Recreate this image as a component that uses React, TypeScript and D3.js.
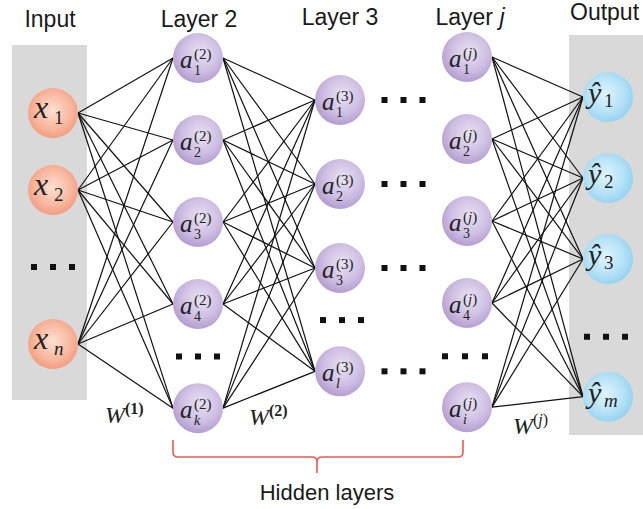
import React from 'react';
import * as d3 from 'd3';

// chart content
const layerIds = ['in', 'l2', 'l3', 'lj', 'out'];
const layerTitles = ['Input', 'Layer 2', 'Layer 3', 'Layer ', 'Output'];
const inputSubs = ['1', '2', 'n'];
const layer2Subs = ['1', '2', '3', '4', 'k'];
const layer3Subs = ['1', '2', '3', 'l'];
const layerJSubs = ['1', '2', '3', '4', 'i'];
const outputSubs = ['1', '2', '3', 'm'];
const hiddenSups = ['2', '3', 'j'];
const weightSups = ['1', '2', 'j'];
const braceLabel = 'Hidden layers';

const W = 643;
const H = 509;
const R = 25;
const MATH = "'Liberation Serif', 'DejaVu Serif', serif";
const SANS = "'Liberation Sans', Arial, sans-serif";

const xPos = d3.scaleOrdinal<string, number>().domain(layerIds).range([53, 198, 340, 467, 608]);

// vertical layout per layer: first row, row step, slot of last node, slot of the dots
const layout: any = {
  in: { y0: 113, step: 77, last: 3, dots: 2 },
  l2: { y0: 58, step: 82, last: 4.27, dots: 3.64 },
  l3: { y0: 100, step: 84, last: 3.23, dots: 2.62 },
  lj: { y0: 57, step: 82, last: 4.27, dots: 3.65 },
  out: { y0: 97, step: 81, last: 3.7, dots: 2.96 }
};

const yScale = (id: string) => {
  const l = layout[id];
  return d3.scaleLinear().domain([0, 1]).range([l.y0, l.y0 + l.step]);
};

const nodesOf = (id: string, subs: string[]) => {
  const y = yScale(id);
  return subs.map((s, i) => ({
    id,
    sub: s,
    x: xPos(id),
    y: y(i === subs.length - 1 ? layout[id].last : i)
  }));
};

const isLetter = (s: string) => /[a-z]/.test(s);
const styleOf = (s: string) => (isLetter(s) ? 'italic' : 'normal');

const Dots = ({ cx, cy, gap = 19 }: any) => (
  <g>
    {[-1, 0, 1].map((k) => (
      <rect key={k} x={cx + k * gap - 3} y={cy - 3} width={6} height={6} fill="#111" />
    ))}
  </g>
);

const App = () => {
  const inNodes = nodesOf('in', inputSubs);
  const l2Nodes = nodesOf('l2', layer2Subs);
  const l3Nodes = nodesOf('l3', layer3Subs);
  const ljNodes = nodesOf('lj', layerJSubs);
  const outNodes = nodesOf('out', outputSubs);

  const edges: any[] = [];
  [
    [inNodes, l2Nodes],
    [l2Nodes, l3Nodes],
    [ljNodes, outNodes]
  ].forEach(([a, b]) => {
    a.forEach((s) => b.forEach((t) => edges.push({ s, t })));
  });

  // a_sub^(sup) as one text element
  const hiddenNode = (n: any, sup: string) => (
    <g key={n.id + n.sub}>
      <circle cx={n.x} cy={n.y} r={R} fill="url(#gPurple)" />
      <text fontFamily={MATH} fill="#222">
        <tspan x={n.x - 18} y={n.y + 10} fontStyle="italic" fontSize={25}>
          a
        </tspan>
        <tspan x={n.x - 4} y={n.y + 1} fontSize={15}>
          (<tspan fontStyle={styleOf(sup)}>{sup}</tspan>)
        </tspan>
        <tspan x={n.x - 4} y={n.y + 17} fontSize={14} fontStyle={styleOf(n.sub)}>
          {n.sub}
        </tspan>
      </text>
    </g>
  );

  const braceL = xPos('l2') - R;
  const braceR = xPos('lj') - 4;
  const braceM = 317;
  const bTop = 440;
  const bY = 457;
  const bTip = 473;
  const c = 5;
  const bracePath = d3.path();
  bracePath.moveTo(braceL, bTop);
  bracePath.lineTo(braceL, bY - c);
  bracePath.quadraticCurveTo(braceL, bY, braceL + c, bY);
  bracePath.lineTo(braceM - c, bY);
  bracePath.quadraticCurveTo(braceM, bY, braceM, bY + c);
  bracePath.lineTo(braceM, bTip);
  bracePath.moveTo(braceM, bY + c);
  bracePath.quadraticCurveTo(braceM, bY, braceM + c, bY);
  bracePath.lineTo(braceR - c, bY);
  bracePath.quadraticCurveTo(braceR, bY, braceR, bY - c);
  bracePath.lineTo(braceR, bTop);

  // weight label anchors (x, baseline)
  const wPos = [
    [xPos('in') + 52, 423],
    [xPos('l2') + 51, 425],
    [xPos('lj') + 46, 434]
  ];

  const titleX = [50, 199, 340, 470, 570];
  const titleY = [27, 27, 25, 25, 20];

  return (
    <svg width={W} height={H} style={{ position: 'absolute', left: 0, top: 0, background: '#fff' }}>
      <defs>
        <radialGradient id="gPurple" cx="55%" cy="40%" r="60%">
          <stop offset="0%" stopColor="#e9e2f2" />
          <stop offset="60%" stopColor="#cfc0e3" />
          <stop offset="100%" stopColor="#b49ed1" />
        </radialGradient>
        <radialGradient id="gSalmon" cx="50%" cy="45%" r="60%">
          <stop offset="0%" stopColor="#fde0d3" />
          <stop offset="60%" stopColor="#f8b79f" />
          <stop offset="100%" stopColor="#f29577" />
        </radialGradient>
        <radialGradient id="gBlue" cx="45%" cy="45%" r="60%">
          <stop offset="0%" stopColor="#e0f4fd" />
          <stop offset="60%" stopColor="#b6e2f7" />
          <stop offset="100%" stopColor="#8fd0ef" />
        </radialGradient>
      </defs>

      {/* grey panels */}
      <rect x={12} y={45} width={75} height={355} fill="#d9d9d9" />
      <rect x={569} y={35} width={W - 569} height={400} fill="#d9d9d9" />

      {/* titles */}
      {layerTitles.map((t, i) => (
        <text
          key={t}
          x={titleX[i]}
          y={titleY[i]}
          textAnchor={i === 4 ? 'start' : 'middle'}
          fontFamily={SANS}
          fontSize={23}
          fill="#1a1a1a"
        >
          {t}
          {layerIds[i] === 'lj' ? <tspan fontStyle="italic">j</tspan> : null}
        </text>
      ))}

      {/* connections */}
      {edges.map((e, i) => (
        <line
          key={i}
          x1={e.s.x + R}
          y1={e.s.y}
          x2={e.t.x - R}
          y2={e.t.y}
          stroke="#111"
          strokeWidth={1.2}
        />
      ))}

      {/* input nodes */}
      {inNodes.map((n) => (
        <g key={'in' + n.sub}>
          <circle cx={n.x} cy={n.y} r={R} fill="url(#gSalmon)" />
          <text fontFamily={MATH} fill="#222">
            <tspan x={n.x - 19} y={n.y + 5} fontStyle="italic" fontSize={32}>
              x
            </tspan>
            <tspan x={n.x + 1} y={n.y + 11} fontStyle={styleOf(n.sub)} fontSize={19}>
              {n.sub}
            </tspan>
          </text>
        </g>
      ))}

      {/* hidden nodes */}
      {l2Nodes.map((n) => hiddenNode(n, hiddenSups[0]))}
      {l3Nodes.map((n) => hiddenNode(n, hiddenSups[1]))}
      {ljNodes.map((n) => hiddenNode(n, hiddenSups[2]))}

      {/* output nodes */}
      {outNodes.map((n) => (
        <g key={'out' + n.sub}>
          <circle cx={n.x} cy={n.y} r={R} fill="url(#gBlue)" />
          <text fontFamily={MATH} fill="#222">
            <tspan x={n.x - 20} y={n.y + 6} fontStyle="italic" fontSize={30}>
              ŷ
            </tspan>
            <tspan x={n.x - 4} y={n.y + 10} fontStyle={styleOf(n.sub)} fontSize={19}>
              {n.sub}
            </tspan>
          </text>
        </g>
      ))}

      {/* ellipsis dots */}
      <Dots cx={xPos('in')} cy={yScale('in')(layout.in.dots)} />
      <Dots cx={xPos('l2')} cy={yScale('l2')(layout.l2.dots)} />
      <Dots cx={xPos('l3') + 2} cy={yScale('l3')(layout.l3.dots)} />
      <Dots cx={xPos('lj') - 2} cy={yScale('lj')(layout.lj.dots)} gap={20} />
      <Dots cx={xPos('out') - 2} cy={yScale('out')(layout.out.dots)} />
      {l3Nodes.map((n) => (
        <Dots key={'mid' + n.sub} cx={(xPos('l3') + xPos('lj')) / 2} cy={n.y} />
      ))}

      {/* weight labels */}
      {weightSups.map((s, i) => (
        <text key={s} x={wPos[i][0]} y={wPos[i][1]} fontFamily={MATH} fill="#222">
          <tspan fontStyle="italic" fontSize={24}>
            W
          </tspan>
          <tspan fontSize={16} dy={-9} fontWeight={isLetter(s) ? 'normal' : 'bold'}>
            (<tspan fontStyle={styleOf(s)}>{s}</tspan>)
          </tspan>
        </text>
      ))}

      {/* hidden-layer brace */}
      <path d={bracePath.toString()} fill="none" stroke="#ea5a52" strokeWidth={1.6} />
      <text x={327} y={500} textAnchor="middle" fontFamily={SANS} fontSize={22} fill="#1a1a1a">
        {braceLabel}
      </text>
    </svg>
  );
};

export default App;
